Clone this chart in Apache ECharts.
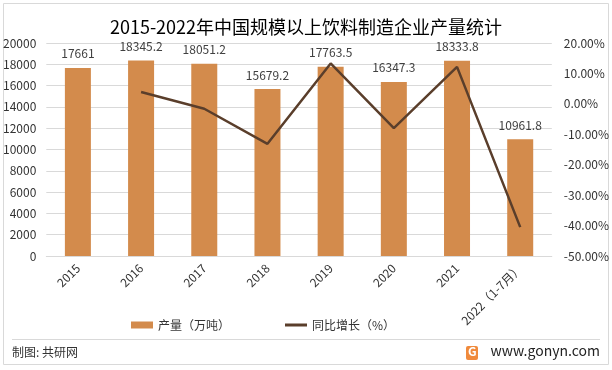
<!DOCTYPE html>
<html><head><meta charset="utf-8">
<script src="https://cdn.jsdelivr.net/npm/echarts@6/dist/echarts.min.js"></script>
<style>html,body{margin:0;padding:0;background:#fff}#c{width:612px;height:370px}</style>
</head><body><div id="c"></div>
<script>
const categories = ['2015','2016','2017','2018','2019','2020','2021','2022（1-7月）'];
const output = [17661, 18345.2, 18051.2, 15679.2, 17763.5, 16347.3, 18333.8, 10961.8];
const growth = [null, 3.87, -1.60, -13.14, 13.29, -7.97, 12.15, -40.5];
const leftTicks = {min:0, max:20000, interval:2000};
const rightTicks = {min:-50, max:20, interval:10};
const F = '"Noto Sans CJK SC","Noto Sans",sans-serif';
const chart = echarts.init(document.getElementById('c'), null, {renderer:'canvas'});
chart.setOption({
  animation:false,
  textStyle:{fontFamily:F},
  title:{text:'2015-2022年中国规模以上饮料制造企业产量统计', left:'center', top:13,
    textStyle:{fontSize:18, fontWeight:'normal', color:'#000', fontFamily:F}},
  graphic:[
    {type:'rect', shape:{x:3.5,y:3.5,width:605,height:361}, style:{fill:'none',stroke:'#d9d9d9',lineWidth:1}, silent:true},
    {type:'line', shape:{x1:12,y1:339.5,x2:600,y2:339.5}, style:{stroke:'#d9d9d9',lineWidth:1}},
    {type:'text', left:12, top:346, style:{text:'制图: 共研网', fontSize:12, fill:'#333', fontFamily:F}},
    {type:'rect', shape:{x:466,y:346,width:12,height:14,r:2}, style:{fill:'#f08a3c'}},
    {type:'text', left:468, top:345, style:{text:'G', fontSize:12, fontWeight:'bold', fill:'#fff', fontFamily:F}},
    {type:'text', right:12, top:344, style:{text:'www.gonyn.com', fontSize:14, fill:'#222', fontFamily:F}}
  ],
  legend:{bottom:34, left:126, itemGap:55, itemWidth:22, itemHeight:7,
    textStyle:{fontSize:12, color:'#333', fontFamily:F},
    data:[{name:'产量（万吨）', icon:'rect'},{name:'同比增长（%）', icon:'path://M0,0H22V3H0Z', itemStyle:{color:'#5a3e2b'}}]},
  grid:{left:46, right:57, top:43, bottom:114, containLabel:false},
  xAxis:{type:'category', data:categories,
    axisLine:{lineStyle:{color:'#d9d9d9'}}, axisTick:{show:false},
    axisLabel:{rotate:45, interval:0, fontSize:12, color:'#333', margin:10, fontFamily:F}},
  yAxis:[
    {type:'value', min:leftTicks.min, max:leftTicks.max, interval:leftTicks.interval,
      axisLine:{show:false}, axisTick:{show:false},
      splitLine:{lineStyle:{color:'#d9d9d9'}},
      axisLabel:{fontSize:12, color:'#333', margin:10, fontFamily:F, formatter:v=>String(v)}},
    {type:'value', min:rightTicks.min, max:rightTicks.max, interval:rightTicks.interval,
      axisLine:{show:false}, axisTick:{show:false}, splitLine:{show:false},
      axisLabel:{fontSize:12, color:'#333', margin:12, fontFamily:F, formatter:v=>v.toFixed(2)+'%'}}
  ],
  series:[
    {name:'产量（万吨）', type:'bar', data:output, barWidth:26,
      itemStyle:{color:'#d38b4c'},
      label:{show:true, position:'top', distance:8, fontSize:12, color:'#404040', fontFamily:F}},
    {name:'同比增长（%）', type:'line', yAxisIndex:1, data:growth, symbol:'none',
      lineStyle:{color:'#5a3e2b', width:2.5}, itemStyle:{color:'#5a3e2b'}}
  ]
});
</script></body></html>
